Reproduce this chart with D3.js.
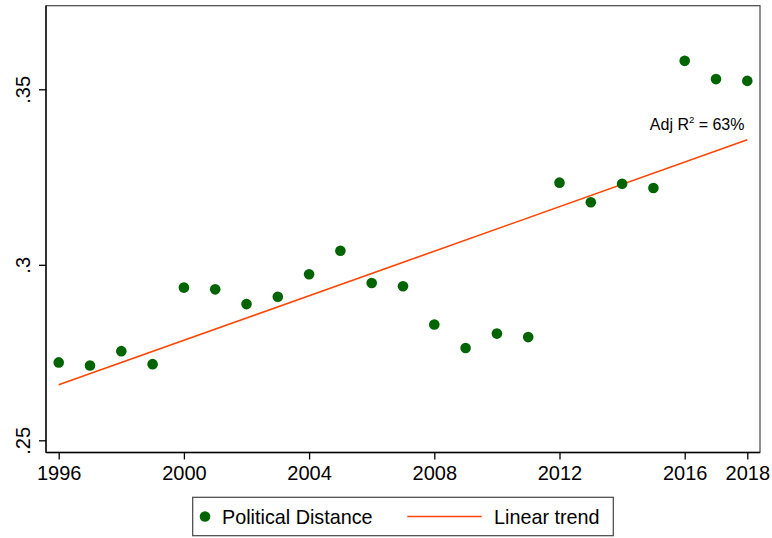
<!DOCTYPE html>
<html lang="en">
<head>
  <meta charset="UTF-8" />
  <title>Political Distance</title>
  <script src="https://cdnjs.cloudflare.com/ajax/libs/d3/7.8.2/d3.min.js"></script>
  <style>
    body {
      margin: 0;
      padding: 0;
      background: #fff;
    }
    svg {
      display: block;
      font-family: "Liberation Sans", Arial, sans-serif;
    }
    .axis text {
      font-size: 20px;
      fill: #000;
    }
    .axis path, .axis line {
      stroke: #000;
      stroke-width: 1.3px;
    }
  </style>
</head>
<body>

<svg id="chart"></svg>

<script>
/* -------------------------------------------------------
   DATA
------------------------------------------------------- */
const years = [1996, 1997, 1998, 1999, 2000, 2001, 2002, 2003, 2004, 2005, 2006, 2007,
               2008, 2009, 2010, 2011, 2012, 2013, 2014, 2015, 2016, 2017, 2018];
const distance = [0.2722, 0.2713, 0.2754, 0.2717, 0.2935, 0.2930, 0.2888, 0.2909,
                  0.2973, 0.3040, 0.2948, 0.2939, 0.2830, 0.2763, 0.2804, 0.2794,
                  0.3234, 0.3178, 0.3231, 0.3219, 0.3581, 0.3529, 0.3524];
// fitted trend line end points
const trendYears = [1996, 2018];
const trendValues = [0.2658, 0.3356];

const xTicks = [1996, 2000, 2004, 2008, 2012, 2016, 2018];
const yTicks = [0.25, 0.30, 0.35];
const yTickLabels = [".25", ".3", ".35"];
const r2Label = "63%";

/* -------------------------------------------------------
   SETUP
------------------------------------------------------- */
const width = 772;
const height = 538;
const plot = { left: 46, right: 760, top: 5.7, bottom: 452.5 };

const svg = d3.select("#chart")
  .attr("width", width)
  .attr("height", height);

const x = d3.scaleLinear().domain([1996, 2018]).range([58.7, 747.3]);
const y = d3.scaleLinear().domain([0.25, 0.35]).range([440.3, 89.3]);

// plot region outline
svg.append("rect")
  .attr("x", plot.left)
  .attr("y", plot.top)
  .attr("width", plot.right - plot.left)
  .attr("height", plot.bottom - plot.top)
  .attr("fill", "none")
  .attr("stroke", "#444")
  .attr("stroke-width", 1.2);

// X axis
const xAxis = svg.append("g")
  .attr("class", "axis")
  .attr("transform", `translate(0,${plot.bottom})`)
  .call(d3.axisBottom(x).tickValues(xTicks).tickFormat(d3.format("d"))
    .tickSize(7).tickPadding(6).tickSizeOuter(0));
xAxis.select(".domain").attr("d", `M${plot.left},0H${plot.right}`);

// Y axis
const yAxis = svg.append("g")
  .attr("class", "axis")
  .attr("transform", `translate(${plot.left},0)`)
  .call(d3.axisLeft(y).tickValues(yTicks)
    .tickFormat((d, i) => yTickLabels[i])
    .tickSize(7).tickSizeOuter(0));
yAxis.select(".domain").attr("d", `M0,${plot.top}V${plot.bottom}`);
yAxis.selectAll(".tick text")
  .attr("x", 0)
  .attr("dy", 0)
  .attr("text-anchor", "middle")
  .attr("transform", "translate(-16.5,0) rotate(-90)");

/* -------------------------------------------------------
   MARKS
------------------------------------------------------- */
svg.append("line")
  .attr("x1", x(trendYears[0]))
  .attr("y1", y(trendValues[0]))
  .attr("x2", x(trendYears[1]))
  .attr("y2", y(trendValues[1]))
  .attr("stroke", "#ff4500")
  .attr("stroke-width", 1.6);

svg.append("g")
  .selectAll("circle")
  .data(years)
  .join("circle")
  .attr("cx", d => x(d))
  .attr("cy", (d, i) => y(distance[i]))
  .attr("r", 5.3)
  .attr("fill", "#006400");

// R squared annotation
const r2 = svg.append("text")
  .attr("x", 744.5)
  .attr("y", 130)
  .attr("text-anchor", "end")
  .attr("font-size", 16)
  .attr("fill", "#000");
r2.append("tspan").text("Adj R");
r2.append("tspan").attr("font-size", 9.5).attr("dy", -7).text("2");
r2.append("tspan").attr("dy", 7).text(" = " + r2Label);

/* -------------------------------------------------------
   LEGEND
------------------------------------------------------- */
const legend = svg.append("g");
legend.append("rect")
  .attr("x", 192.7)
  .attr("y", 497.3)
  .attr("width", 420.6)
  .attr("height", 38.4)
  .attr("fill", "#fff")
  .attr("stroke", "#444")
  .attr("stroke-width", 1.2);
legend.append("circle")
  .attr("cx", 205)
  .attr("cy", 516.5)
  .attr("r", 5.3)
  .attr("fill", "#006400");
legend.append("text")
  .attr("x", 222)
  .attr("y", 523.5)
  .attr("font-size", 19.8)
  .text("Political Distance");
legend.append("line")
  .attr("x1", 407.3)
  .attr("x2", 481.7)
  .attr("y1", 516.5)
  .attr("y2", 516.5)
  .attr("stroke", "#ff4500")
  .attr("stroke-width", 1.6);
legend.append("text")
  .attr("x", 494)
  .attr("y", 523.5)
  .attr("font-size", 19.8)
  .text("Linear trend");
</script>

</body>
</html>
